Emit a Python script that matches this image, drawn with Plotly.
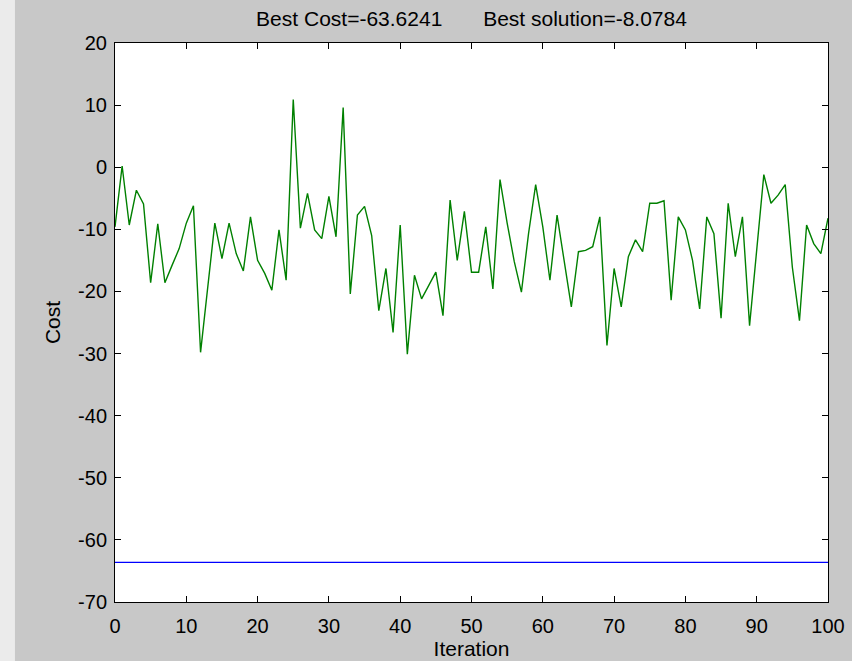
import plotly.graph_objects as go

iterations = list(range(0, 101))
cost = [-9.6, 0.2, -9.3, -3.7, -5.9, -18.6, -9.1, -18.6, -15.8, -13.1,
        -9.0, -6.2, -29.8, -19.3, -9.0, -14.7, -9.0, -13.9, -16.7, -8.0,
        -15.0, -17.1, -19.8, -10.1, -18.2, 10.9, -9.8, -4.2, -10.1, -11.5,
        -4.7, -11.2, 9.6, -20.4, -7.7, -6.3, -11.0, -23.1, -16.3, -26.6,
        -9.3, -30.1, -17.4, -21.2, -19.0, -16.9, -23.9, -5.3, -15.0, -7.1,
        -16.9, -16.9, -9.6, -19.6, -2.0, -9.0, -15.2, -20.1, -10.7, -2.8,
        -9.6, -18.2, -7.7, -15.2, -22.5, -13.6, -13.4, -12.8, -8.0, -28.7,
        -16.3, -22.5, -14.4, -11.7, -13.6, -5.8, -5.8, -5.4, -21.4, -8.0,
        -10.1, -15.0, -22.8, -8.0, -10.7, -24.3, -5.8, -14.4, -8.0, -25.5,
        -12.8, -1.2, -5.8, -4.5, -2.8, -16.1, -24.7, -9.3, -12.3, -13.9,
        -8.2]
best_cost = -63.6241
best_solution = -8.0784
x_ticks = list(range(0, 101, 10))
y_ticks = list(range(-70, 21, 10))
y_tick_labels = [str(v) for v in y_ticks]
x_tick_labels = [str(v) for v in x_ticks]

fig = go.Figure()
fig.add_trace(go.Scatter(x=iterations, y=cost, mode="lines",
                         line=dict(color="#008000", width=1.4), showlegend=False))
fig.add_trace(go.Scatter(x=[iterations[0], iterations[-1]], y=[best_cost, best_cost],
                         mode="lines", line=dict(color="#0000ff", width=1.4),
                         showlegend=False))

fam = "Liberation Sans, Arial, sans-serif"
tick_font = dict(family=fam, size=20, color="#000000")
label_font = dict(family=fam, size=21, color="#000000")
axis_common = dict(showgrid=False, zeroline=False, ticks="inside", ticklen=6,
                   tickcolor="#000000", tickwidth=1, showline=True, linecolor="#000000",
                   linewidth=1, mirror="ticks", tickfont=tick_font, automargin=False)

gap = "&nbsp;" * 7
fig.update_layout(
    width=852, height=661,
    margin=dict(l=115, r=24, t=43, b=59),
    paper_bgcolor="#c8c8c8", plot_bgcolor="#ffffff",
    title=dict(text=f"Best Cost={best_cost}{gap}Best solution={best_solution}",
               x=0.5, xanchor="center", xref="paper", yref="container",
               y=1 - 19 / 661, yanchor="middle", font=label_font),
    xaxis=dict(range=[0, 100], tickvals=x_ticks, ticktext=x_tick_labels, ticklabelstandoff=6,
               title=dict(text="Iteration", font=label_font, standoff=5),
               **axis_common),
    yaxis=dict(range=[-70, 20], tickvals=y_ticks, ticktext=y_tick_labels, ticklabelstandoff=3,
               title=dict(text="Cost", font=label_font, standoff=11),
               **axis_common),
    shapes=[dict(type="rect", xref="paper", yref="paper", x0=-0.1613, x1=-0.1403,
                 y0=-0.12, y1=1.1, fillcolor="#ebebeb", line=dict(width=0), layer="below")],
)

fig.write_html("out.html")
